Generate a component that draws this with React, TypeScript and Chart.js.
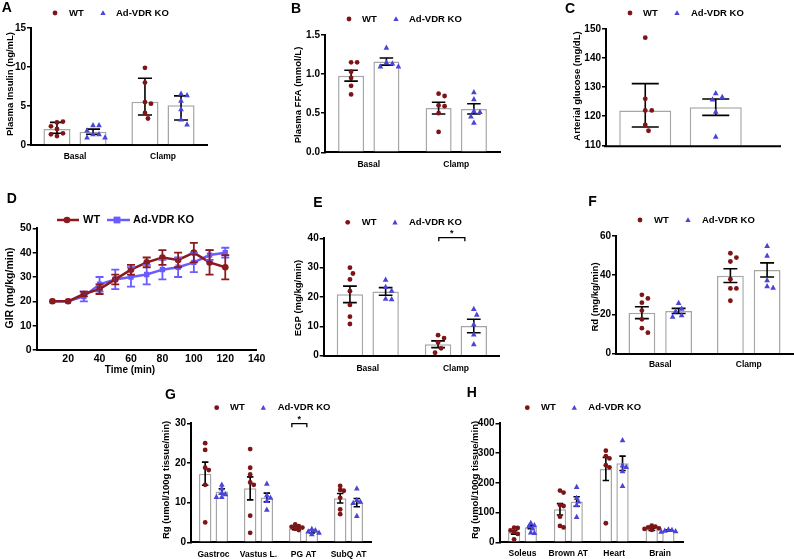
import React, { useEffect, useRef } from 'react';
import { Chart, registerables } from 'chart.js';

Chart.register(...registerables);

const PAGE_W = 794;
const PAGE_H = 559;
const FONT = '"Liberation Sans", Arial, Helvetica, sans-serif';
const WT_COLOR = '#7e1416';
const KO_COLOR = '#4a44d8';
const WT_LINE = '#8a1a1c';
const KO_LINE = '#6a5cff';
const BAR_EDGE = '#a6a6a6';

// ---------------- data ----------------
// A: plasma insulin
const A_CATEGORIES = ['Basal', 'Clamp'];
const A_WT_MEAN = [2.05, 5.55];
const A_KO_MEAN = [1.7, 5.1];
const A_WT_ERR: any[] = [[0.55, 0.85], [1.7, 3.0]];
const A_KO_ERR: any[] = [0.33, [1.9, 1.2]];
const A_WT_POINTS = [[2.9, 3.0, 2.4, 2.05, 1.5, 1.15, 1.37], [9.9, 8.0, 5.5, 5.3, 4.1, 3.4]];
const A_KO_POINTS = [[2.55, 2.55, 1.9, 1.4, 1.4, 1.0, 1.0], [6.6, 6.4, 5.7, 4.6, 3.3, 2.65]];
const A_Y_TICKS = [0, 15, 5];

// B: plasma FFA
const B_CATEGORIES = ['Basal', 'Clamp'];
const B_WT_MEAN = [0.98, 0.565];
const B_KO_MEAN = [1.16, 0.555];
const B_WT_ERR: any[] = [0.07, 0.075];
const B_KO_ERR: any[] = [0.045, 0.065];
const B_WT_POINTS = [[1.15, 1.15, 1.03, 0.95, 0.85, 0.74], [0.75, 0.72, 0.6, 0.59, 0.5, 0.26]];
const B_KO_POINTS = [[1.34, 1.15, 1.14, 1.1, 1.1], [0.77, 0.68, 0.53, 0.52, 0.46, 0.38]];
const B_Y_TICKS = [0, 1.5, 0.5];

// C: arterial glucose
const C_CATEGORIES = [''];
const C_WT_MEAN = [122];
const C_KO_MEAN = [123.1];
const C_WT_ERR: any[] = [[5.7, 9.2]];
const C_KO_ERR: any[] = [2.8];
const C_WT_POINTS = [[147, 126, 122, 122, 117, 115]];
const C_KO_POINTS = [[128, 126.7, 125.8, 121.6, 113]];
const C_Y_TICKS = [110, 150, 10];

// D: GIR time course
const D_TIME = [10, 20, 30, 40, 50, 60, 70, 80, 90, 100, 110, 120];
const D_WT_GIR = [20, 20, 23, 25, 29, 33, 36, 38, 37, 40, 36, 34];
const D_WT_SEM = [0, 0, 1, 2, 2, 2, 2, 3, 3, 4, 5, 5];
const D_KO_GIR = [20, 20, 22, 27, 29, 30, 31, 33, 34, 36, 39, 40];
const D_KO_SEM = [0, 0, 2, 3, 4, 4, 4, 4, 4, 4, 2, 2];
const D_X_TICKS = [0, 140, 20];
const D_Y_TICKS = [0, 50, 10];

// E: EGP
const E_CATEGORIES = ['Basal', 'Clamp'];
const E_WT_MEAN = [20.9, 3.9];
const E_KO_MEAN = [21.9, 10.1];
const E_WT_ERR: any[] = [2.8, 1.15];
const E_KO_ERR: any[] = [1.3, 2.3];
const E_WT_POINTS = [[30, 28, 26, 22, 17.3, 13.3, 10.8], [7, 6, 4.5, 2.5, 1]];
const E_KO_POINTS = [[26, 23.5, 22.2, 19.5, 19.3], [16, 14, 10.7, 7.3, 4]];
const E_Y_TICKS = [0, 40, 10];

// F: Rd
const F_CATEGORIES = ['Basal', 'Clamp'];
const F_WT_MEAN = [20.9, 39.8];
const F_KO_MEAN = [21.8, 42.7];
const F_WT_ERR: any[] = [3, 3.5];
const F_KO_ERR: any[] = [1.3, 3.6];
const F_WT_POINTS = [[30, 28.2, 26, 22, 17.5, 13, 10.7], [51.2, 49, 47, 38, 33.3, 33.3, 27]];
const F_KO_POINTS = [[26, 23, 21.8, 19.7, 18.9], [55, 50, 37.6, 34.5, 33.8]];
const F_Y_TICKS = [0, 60, 20];

// G: Rg muscle / white fat
const G_CATEGORIES = ['Gastroc', 'Vastus L.', 'PG AT', 'SubQ AT'];
const G_WT_MEAN = [17.3, 13.6, 3.5, 11.1];
const G_KO_MEAN = [12.8, 11.3, 2.7, 10.0];
const G_WT_ERR: any[] = [2.9, 2.9, 0.35, 1.2];
const G_KO_ERR: any[] = [0.7, 1.1, 0.35, 1.05];
const G_WT_POINTS = [
  [25, 23.3, 18.8, 18.2, 14.5, 5],
  [23.5, 18.8, 17.1, 15.1, 14.5, 6.7, 2.4],
  [4.5, 4.1, 3.9, 3.7, 3.4, 3.1],
  [14.2, 13.2, 13.0, 11.2, 8.3, 7.1],
];
const G_KO_POINTS = [
  [14.6, 13.6, 12.5, 12.2, 11.5, 11.5],
  [14.8, 11.9, 11.3, 10.5, 8.3],
  [3.4, 3.1, 2.8, 2.5, 2.1],
  [13.6, 10.7, 10.3, 10.0, 6.7],
];
const G_Y_TICKS = [0, 30, 10];

// H: Rg other tissues
const H_CATEGORIES = ['Soleus', 'Brown AT', 'Heart', 'Brain'];
const H_WT_MEAN = [33.6, 111, 246.5, 43.7];
const H_KO_MEAN = [50.4, 137, 265.5, 40.3];
const H_WT_ERR: any[] = [6, 19, 39, 4];
const H_KO_ERR: any[] = [5, 16, 24, 2];
const H_WT_POINTS = [
  [49, 48, 40, 35, 28, 10],
  [174, 167, 125, 122, 86, 55, 50],
  [308, 290, 282, 259, 252, 64],
  [56, 53, 50, 47, 45, 42],
];
const H_KO_POINTS = [
  [66, 58, 55, 47, 34, 32],
  [187, 150, 138, 125, 86],
  [344, 259, 254, 240, 190],
  [44, 42, 40, 38, 36],
];
const H_Y_TICKS = [0, 400, 100];

// ---------------- layout ----------------
type Area = { l: number; t: number; r: number; b: number };

interface BarPanel {
  letter: string;
  letterPos: [number, number];
  legendY: number;
  legendX: [number, number, number, number];
  area: Area;
  categories: string[];
  wtMean: number[];
  koMean: number[];
  wtErr: any[];
  koErr: any[];
  wtPts: number[][];
  koPts: number[][];
  yTicks: number[];
  yDecimals: number;
  yTitle: string;
  yTitleX: number;
  yTitleY: number;
  catPct: number;
  barPct: number;
  catPad: number;
  extendX?: number;
  bracket?: { cat: number; value: number; from: number; to: number };
  swarmStep: number;
}

const PANELS: BarPanel[] = [
  {
    letter: 'A', letterPos: [1.7, 12], legendY: 13, legendX: [55, 69, 103, 116],
    area: { l: 31, t: 28, r: 207, b: 145 },
    categories: A_CATEGORIES, wtMean: A_WT_MEAN, koMean: A_KO_MEAN, wtErr: A_WT_ERR, koErr: A_KO_ERR,
    wtPts: A_WT_POINTS, koPts: A_KO_POINTS, yTicks: A_Y_TICKS, yDecimals: 0,
    yTitle: 'Plasma Insulin (ng/mL)', yTitleX: 10, yTitleY: 84,
    catPct: 0.82, barPct: 0.75, catPad: 7, swarmStep: 6,
  },
  {
    letter: 'B', letterPos: [291, 13.3], legendY: 19, legendX: [349, 362, 396, 409],
    area: { l: 325, t: 35, r: 500, b: 152.3 },
    categories: B_CATEGORIES, wtMean: B_WT_MEAN, koMean: B_KO_MEAN, wtErr: B_WT_ERR, koErr: B_KO_ERR,
    wtPts: B_WT_POINTS, koPts: B_KO_POINTS, yTicks: B_Y_TICKS, yDecimals: 1,
    yTitle: 'Plasma FFA (mmol/L)', yTitleX: 298, yTitleY: 95,
    catPct: 0.807, barPct: 0.737, catPad: 7, swarmStep: 6,
  },
  {
    letter: 'C', letterPos: [565, 13.3], legendY: 13, legendX: [630, 643, 677, 691],
    area: { l: 606, t: 29, r: 755, b: 145.3 },
    categories: C_CATEGORIES, wtMean: C_WT_MEAN, koMean: C_KO_MEAN, wtErr: C_WT_ERR, koErr: C_KO_ERR,
    wtPts: C_WT_POINTS, koPts: C_KO_POINTS, yTicks: C_Y_TICKS, yDecimals: 0,
    yTitle: 'Arterial glucose (mg/dL)', yTitleX: 577, yTitleY: 86,
    catPct: 0.946, barPct: 0.738, catPad: 7, extendX: 781, swarmStep: 6.5,
  },
  {
    letter: 'E', letterPos: [313.3, 207.3], legendY: 222.3, legendX: [347.7, 361.7, 395, 409],
    area: { l: 323.7, t: 238.3, r: 500, b: 355.7 },
    categories: E_CATEGORIES, wtMean: E_WT_MEAN, koMean: E_KO_MEAN, wtErr: E_WT_ERR, koErr: E_KO_ERR,
    wtPts: E_WT_POINTS, koPts: E_KO_POINTS, yTicks: E_Y_TICKS, yDecimals: 0,
    yTitle: 'EGP (mg/kg/min)', yTitleX: 298, yTitleY: 298,
    catPct: 0.81, barPct: 0.74, catPad: 8, swarmStep: 6,
    bracket: { cat: 1, value: 40.2, from: 0.02, to: 0.75 },
  },
  {
    letter: 'F', letterPos: [588.3, 206], legendY: 220, legendX: [640, 654, 688, 702],
    area: { l: 616, t: 236, r: 793, b: 353.7 },
    categories: F_CATEGORIES, wtMean: F_WT_MEAN, koMean: F_KO_MEAN, wtErr: F_WT_ERR, koErr: F_KO_ERR,
    wtPts: F_WT_POINTS, koPts: F_KO_POINTS, yTicks: F_Y_TICKS, yDecimals: 0,
    yTitle: 'Rd (mg/kg/min)', yTitleX: 595, yTitleY: 297,
    catPct: 0.83, barPct: 0.73, catPad: 6, swarmStep: 6,
  },
  {
    letter: 'G', letterPos: [165, 399.3], legendY: 407.7, legendX: [216.7, 230, 263.3, 277.7],
    area: { l: 191, t: 423.3, r: 371, b: 542.3 },
    categories: G_CATEGORIES, wtMean: G_WT_MEAN, koMean: G_KO_MEAN, wtErr: G_WT_ERR, koErr: G_KO_ERR,
    wtPts: G_WT_POINTS, koPts: G_KO_POINTS, yTicks: G_Y_TICKS, yDecimals: 0,
    yTitle: 'Rg (umol/100g tissue/min)', yTitleX: 166.7, yTitleY: 480,
    catPct: 0.74, barPct: 0.75, catPad: 7, swarmStep: 3.6,
    bracket: { cat: 2, value: 29.9, from: -0.2, to: 0.7 },
  },
  {
    letter: 'H', letterPos: [466.7, 397.3], legendY: 407.7, legendX: [527.3, 541, 574.3, 588.3],
    area: { l: 499.5, t: 423.3, r: 683, b: 542.3 },
    categories: H_CATEGORIES, wtMean: H_WT_MEAN, koMean: H_KO_MEAN, wtErr: H_WT_ERR, koErr: H_KO_ERR,
    wtPts: H_WT_POINTS, koPts: H_KO_POINTS, yTicks: H_Y_TICKS, yDecimals: 0,
    yTitle: 'Rg (umol/100g tissue/min)', yTitleX: 475, yTitleY: 480,
    catPct: 0.727, barPct: 0.74, catPad: 6, swarmStep: 3.6,
  },
];

const D_LAYOUT = {
  letterPos: [6.7, 203.3],
  legendY: 220,
  area: { l: 36.7, t: 228.3, r: 256.7, b: 350 } as Area,
  yTitleX: 10,
  yTitleY: 288,
  xTitleX: 130,
  xTitleY: 373,
};

// ---------------- drawing helpers ----------------
function drawDot(ctx: CanvasRenderingContext2D, x: number, y: number, r: number) {
  ctx.beginPath();
  ctx.arc(x, y, r, 0, Math.PI * 2);
  ctx.fill();
}

function drawTri(ctx: CanvasRenderingContext2D, x: number, y: number, s: number) {
  ctx.beginPath();
  ctx.moveTo(x, y - s);
  ctx.lineTo(x + s * 0.95, y + s * 0.75);
  ctx.lineTo(x - s * 0.95, y + s * 0.75);
  ctx.closePath();
  ctx.fill();
}

function errParts(e: any): [number, number] {
  return typeof e === 'number' ? [e, e] : [e[0], e[1]];
}

function swarm(cx: number, ys: number[], step: number): number[] {
  const placed: { x: number; y: number }[] = [];
  const offs: number[] = [0];
  for (let i = 1; i < 16; i++) offs.push(i * step * 0.5, -i * step * 0.5);
  return ys.map((y) => {
    for (const o of offs) {
      const x = cx + o;
      if (placed.every((p) => Math.hypot(p.x - x, p.y - y) >= step)) {
        placed.push({ x, y });
        return x;
      }
    }
    placed.push({ x: cx, y });
    return cx;
  });
}

function drawYTitle(ctx: CanvasRenderingContext2D, text: string, x: number, y: number, size: number) {
  ctx.save();
  ctx.translate(x, y);
  ctx.rotate(-Math.PI / 2);
  ctx.font = `bold ${size}px ${FONT}`;
  ctx.fillStyle = '#000';
  ctx.textAlign = 'center';
  ctx.textBaseline = 'middle';
  ctx.fillText(text, 0, 0);
  ctx.restore();
}

function drawLetter(ctx: CanvasRenderingContext2D, letter: string, pos: number[]) {
  ctx.font = `bold 14px ${FONT}`;
  ctx.fillStyle = '#000';
  ctx.textAlign = 'left';
  ctx.textBaseline = 'alphabetic';
  ctx.fillText(letter, pos[0], pos[1]);
}

function barDecor(p: BarPanel) {
  return {
    id: 'barDecor' + p.letter,
    afterDatasetsDraw(chart: any) {
      const ctx: CanvasRenderingContext2D = chart.ctx;
      const ys = chart.scales.y;
      const area = chart.chartArea;
      ctx.save();
      if (p.extendX) {
        ctx.strokeStyle = '#000';
        ctx.lineWidth = 2;
        ctx.beginPath();
        ctx.moveTo(area.left - 2, ys.getPixelForValue(p.yTicks[0]) + 1);
        ctx.lineTo(p.extendX, ys.getPixelForValue(p.yTicks[0]) + 1);
        ctx.stroke();
      }
      const means = [p.wtMean, p.koMean];
      const errs = [p.wtErr, p.koErr];
      const pts = [p.wtPts, p.koPts];
      // error bars
      [0, 1].forEach((d) => {
        const meta = chart.getDatasetMeta(d);
        meta.data.forEach((bar: any, j: number) => {
          const [lo, hi] = errParts(errs[d][j]);
          const m = means[d][j];
          const yTop = ys.getPixelForValue(m + hi);
          const yBot = ys.getPixelForValue(m - lo);
          const cw = bar.width * 0.26;
          ctx.strokeStyle = '#000';
          ctx.lineWidth = 1.6;
          ctx.beginPath();
          ctx.moveTo(bar.x, yTop);
          ctx.lineTo(bar.x, yBot);
          ctx.moveTo(bar.x - cw, yTop);
          ctx.lineTo(bar.x + cw, yTop);
          ctx.moveTo(bar.x - cw, yBot);
          ctx.lineTo(bar.x + cw, yBot);
          ctx.stroke();
        });
      });
      // individual points
      [0, 1].forEach((d) => {
        const meta = chart.getDatasetMeta(d);
        meta.data.forEach((bar: any, j: number) => {
          const vals = pts[d][j] || [];
          const py = vals.map((v: number) => ys.getPixelForValue(v));
          const px = swarm(bar.x, py, p.swarmStep);
          ctx.fillStyle = d === 0 ? WT_COLOR : KO_COLOR;
          py.forEach((y: number, k: number) => {
            if (d === 0) drawDot(ctx, px[k], y, 2.4);
            else drawTri(ctx, px[k], y, 3);
          });
        });
      });
      // significance bracket
      if (p.bracket) {
        const b = p.bracket;
        const w = chart.getDatasetMeta(0).data[b.cat];
        const k = chart.getDatasetMeta(1).data[b.cat];
        const dist = k.x - w.x;
        const x1 = w.x + dist * b.from;
        const x2 = w.x + dist * b.to;
        const y = ys.getPixelForValue(b.value);
        ctx.strokeStyle = '#000';
        ctx.lineWidth = 1.3;
        ctx.beginPath();
        ctx.moveTo(x1, y + 3.5);
        ctx.lineTo(x1, y);
        ctx.lineTo(x2, y);
        ctx.lineTo(x2, y + 3.5);
        ctx.stroke();
        ctx.fillStyle = '#000';
        ctx.font = `bold 9px ${FONT}`;
        ctx.textAlign = 'center';
        ctx.textBaseline = 'middle';
        ctx.fillText('*', (x1 + x2) / 2, y - 4.5);
      }
      // legend
      ctx.fillStyle = WT_COLOR;
      drawDot(ctx, p.legendX[0], p.legendY, 2.4);
      ctx.fillStyle = KO_COLOR;
      drawTri(ctx, p.legendX[2], p.legendY, 2.8);
      ctx.fillStyle = '#000';
      ctx.font = `bold 9.5px ${FONT}`;
      ctx.textAlign = 'left';
      ctx.textBaseline = 'middle';
      ctx.fillText('WT', p.legendX[1], p.legendY);
      ctx.fillText('Ad-VDR KO', p.legendX[3], p.legendY);
      drawLetter(ctx, p.letter, p.letterPos);
      drawYTitle(ctx, p.yTitle, p.yTitleX, p.yTitleY, 9.5);
      ctx.restore();
    },
  };
}

function buildBarConfig(p: BarPanel): any {
  const a = p.area;
  return {
    type: 'bar',
    data: {
      labels: p.categories,
      datasets: [
        {
          label: 'WT', data: p.wtMean, backgroundColor: '#ffffff', borderColor: BAR_EDGE,
          borderWidth: 1.5, borderSkipped: 'bottom', categoryPercentage: p.catPct, barPercentage: p.barPct,
        },
        {
          label: 'Ad-VDR KO', data: p.koMean, backgroundColor: '#ffffff', borderColor: BAR_EDGE,
          borderWidth: 1.5, borderSkipped: 'bottom', categoryPercentage: p.catPct, barPercentage: p.barPct,
        },
      ],
    },
    options: {
      responsive: false,
      animation: false,
      devicePixelRatio: 1,
      events: [],
      layout: { padding: { left: 0, top: a.t, right: PAGE_W - a.r, bottom: 0 } },
      plugins: { legend: { display: false }, tooltip: { enabled: false } },
      scales: {
        x: {
          type: 'category',
          offset: true,
          border: { display: !p.extendX, color: '#000', width: 2 },
          grid: { display: false, drawTicks: false },
          ticks: {
            color: '#000', font: { family: FONT, size: 8.5, weight: 'bold' },
            padding: p.catPad, maxRotation: 0, autoSkip: false,
          },
          afterFit: (s: any) => { s.height = PAGE_H - a.b; },
        },
        y: {
          min: p.yTicks[0],
          max: p.yTicks[1],
          border: { display: true, color: '#000', width: 2 },
          grid: { display: true, drawOnChartArea: false, drawTicks: true, tickLength: 4, color: '#000', lineWidth: 1.5 },
          ticks: {
            stepSize: p.yTicks[2], color: '#000', font: { family: FONT, size: 10, weight: 'bold' }, padding: 1,
            callback: (v: any) => Number(v).toFixed(p.yDecimals),
          },
          afterFit: (s: any) => { s.width = a.l; },
        },
      },
    },
    plugins: [barDecor(p)],
  };
}

function buildLineConfig(): any {
  const L = D_LAYOUT;
  const a = L.area;
  const decor = {
    id: 'lineDecor',
    afterDatasetsDraw(chart: any) {
      const ctx: CanvasRenderingContext2D = chart.ctx;
      const xs = chart.scales.x;
      const ys = chart.scales.y;
      ctx.save();
      const series = [
        { m: D_KO_GIR, e: D_KO_SEM, c: KO_LINE },
        { m: D_WT_GIR, e: D_WT_SEM, c: WT_LINE },
      ];
      series.forEach((s) => {
        ctx.strokeStyle = s.c;
        ctx.lineWidth = 1.8;
        D_TIME.forEach((t, i) => {
          if (!s.e[i]) return;
          const x = xs.getPixelForValue(t);
          const y1 = ys.getPixelForValue(s.m[i] + s.e[i]);
          const y2 = ys.getPixelForValue(s.m[i] - s.e[i]);
          ctx.beginPath();
          ctx.moveTo(x, y1); ctx.lineTo(x, y2);
          ctx.moveTo(x - 4, y1); ctx.lineTo(x + 4, y1);
          ctx.moveTo(x - 4, y2); ctx.lineTo(x + 4, y2);
          ctx.stroke();
        });
      });
      // legend
      const ly = L.legendY;
      ctx.lineWidth = 2.5;
      ctx.strokeStyle = WT_LINE;
      ctx.beginPath(); ctx.moveTo(57, ly); ctx.lineTo(79, ly); ctx.stroke();
      ctx.fillStyle = WT_LINE;
      drawDot(ctx, 67, ly, 3.3);
      ctx.strokeStyle = KO_LINE;
      ctx.beginPath(); ctx.moveTo(107, ly); ctx.lineTo(130, ly); ctx.stroke();
      ctx.fillStyle = KO_LINE;
      ctx.fillRect(117 - 3.4, ly - 3.4, 6.8, 6.8);
      ctx.fillStyle = '#000';
      ctx.font = `bold 11px ${FONT}`;
      ctx.textAlign = 'left';
      ctx.textBaseline = 'middle';
      ctx.fillText('WT', 83, ly);
      ctx.fillText('Ad-VDR KO', 133, ly);
      drawLetter(ctx, 'D', L.letterPos);
      drawYTitle(ctx, 'GIR (mg/kg/min)', L.yTitleX, L.yTitleY, 10.5);
      ctx.font = `bold 10px ${FONT}`;
      ctx.textAlign = 'center';
      ctx.fillText('Time (min)', L.xTitleX, L.xTitleY);
      ctx.restore();
    },
  };
  return {
    type: 'line',
    data: {
      datasets: [
        {
          label: 'WT', data: D_TIME.map((t, i) => ({ x: t, y: D_WT_GIR[i] })),
          borderColor: WT_LINE, backgroundColor: WT_LINE, borderWidth: 2.5,
          pointStyle: 'circle', pointRadius: 3.3, pointBackgroundColor: WT_LINE, pointBorderWidth: 0, tension: 0,
        },
        {
          label: 'Ad-VDR KO', data: D_TIME.map((t, i) => ({ x: t, y: D_KO_GIR[i] })),
          borderColor: KO_LINE, backgroundColor: KO_LINE, borderWidth: 2.5,
          pointStyle: 'rect', pointRadius: 3.8, pointBackgroundColor: KO_LINE, pointBorderWidth: 0, tension: 0,
        },
      ],
    },
    options: {
      responsive: false,
      animation: false,
      devicePixelRatio: 1,
      events: [],
      layout: { padding: { left: 0, top: a.t, right: PAGE_W - a.r, bottom: 0 } },
      plugins: { legend: { display: false }, tooltip: { enabled: false } },
      scales: {
        x: {
          type: 'linear', min: D_X_TICKS[0], max: D_X_TICKS[1],
          border: { display: true, color: '#000', width: 2 },
          grid: { display: false, drawTicks: false },
          ticks: {
            stepSize: D_X_TICKS[2], color: '#000', font: { family: FONT, size: 10.5, weight: 'bold' }, padding: 3,
            maxRotation: 0, callback: (v: any) => (Number(v) === 0 ? '' : String(v)),
          },
          afterFit: (s: any) => { s.height = PAGE_H - a.b; },
        },
        y: {
          min: D_Y_TICKS[0], max: D_Y_TICKS[1],
          border: { display: true, color: '#000', width: 2 },
          grid: { display: true, drawOnChartArea: false, drawTicks: true, tickLength: 4, color: '#000', lineWidth: 1.5 },
          ticks: { stepSize: D_Y_TICKS[2], color: '#000', font: { family: FONT, size: 10.5, weight: 'bold' }, padding: 1 },
          afterFit: (s: any) => { s.width = a.l; },
        },
      },
    },
    plugins: [decor],
  };
}

function Layer({ build }: { build: () => any }) {
  const ref = useRef<HTMLCanvasElement | null>(null);
  useEffect(() => {
    if (!ref.current) return;
    const chart = new Chart(ref.current, build());
    return () => chart.destroy();
  }, [build]);
  return (
    <canvas
      ref={ref}
      width={PAGE_W}
      height={PAGE_H}
      style={{ position: 'absolute', left: 0, top: 0, width: PAGE_W, height: PAGE_H }}
    />
  );
}

const BUILDERS: (() => any)[] = [
  ...PANELS.map((p) => () => buildBarConfig(p)),
  buildLineConfig,
];

export default function App() {
  return (
    <div style={{ position: 'absolute', left: 0, top: 0, width: PAGE_W, height: PAGE_H, background: '#fff', overflow: 'hidden' }}>
      {BUILDERS.map((b, i) => (
        <Layer key={i} build={b} />
      ))}
    </div>
  );
}
